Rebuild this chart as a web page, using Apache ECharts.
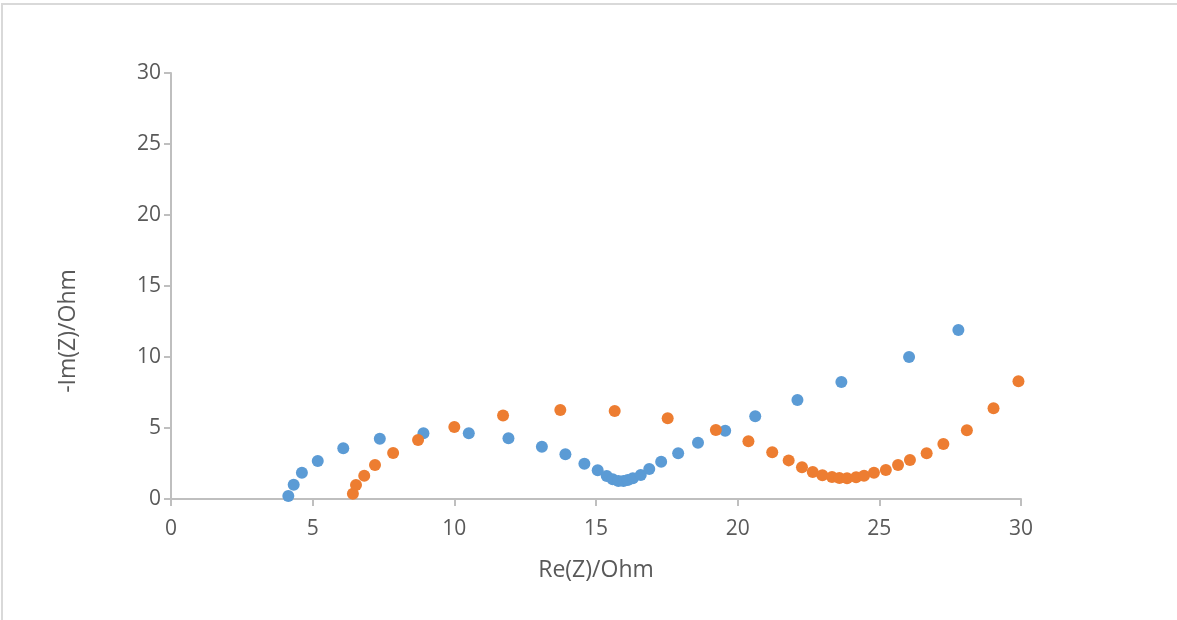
<!DOCTYPE html>
<html>
<head>
<meta charset="utf-8">
<title>Nyquist plot</title>
<script src="https://cdn.jsdelivr.net/npm/echarts@6/dist/echarts.min.js"></script>
<style>
  html, body { margin: 0; padding: 0; background: #fff; }
  #chart { width: 1177px; height: 620px; }
</style>
</head>
<body>
<div id="chart"></div>
<script>
// Impedance spectra: real part (Ohm) and negative imaginary part (Ohm)
const blueRe = [4.14, 4.33, 4.62, 5.18, 6.08, 7.37, 8.91, 10.51, 11.91, 13.09, 13.92, 14.59, 15.06, 15.38, 15.59, 15.79, 15.97, 16.12, 16.30, 16.58, 16.88, 17.30, 17.90, 18.60, 19.56, 20.62, 22.11, 23.66, 26.05, 27.79];
const blueIm = [0.21, 1.01, 1.85, 2.68, 3.57, 4.25, 4.63, 4.63, 4.27, 3.68, 3.15, 2.49, 2.02, 1.62, 1.39, 1.27, 1.27, 1.34, 1.46, 1.69, 2.11, 2.63, 3.22, 3.96, 4.81, 5.82, 6.97, 8.24, 10.0, 11.9];

const orangeRe = [6.42, 6.53, 6.82, 7.20, 7.84, 8.72, 10.0, 11.72, 13.74, 15.66, 17.53, 19.23, 20.38, 21.22, 21.80, 22.27, 22.65, 22.99, 23.33, 23.59, 23.86, 24.18, 24.46, 24.81, 25.23, 25.66, 26.08, 26.67, 27.26, 28.09, 29.03, 29.91];
const orangeIm = [0.37, 0.99, 1.64, 2.39, 3.24, 4.15, 5.07, 5.88, 6.27, 6.20, 5.68, 4.86, 4.06, 3.29, 2.72, 2.23, 1.90, 1.67, 1.55, 1.48, 1.46, 1.53, 1.64, 1.85, 2.04, 2.39, 2.75, 3.22, 3.87, 4.84, 6.39, 8.29];

const xTicks = [0, 5, 10, 15, 20, 25, 30];
const yTicks = [0, 5, 10, 15, 20, 25, 30];

const xTitle = 'Re(Z)/Ohm';
const yTitle = '-Im(Z)/Ohm';

const pairs = (xs, ys) => xs.map((x, i) => [x, ys[i]]);

const textColor = '#595959';
const fontFamily = 'Open Sans';
const tickFont = { color: textColor, fontFamily: fontFamily, fontSize: 21 };
const titleFont = { color: textColor, fontFamily: fontFamily, fontSize: 23 };
const axisGrey = '#BFBFBF';

const chart = echarts.init(document.getElementById('chart'), null, { renderer: 'canvas' });
chart.setOption({
  animation: false,
  backgroundColor: '#ffffff',
  graphic: [
    {
      // chart area frame (its right and bottom edges fall outside the canvas)
      type: 'rect',
      shape: { x: 2, y: 4, width: 1300, height: 800 },
      style: { fill: 'none', stroke: '#D9D9D9', lineWidth: 2 },
      silent: true
    },
    {
      // vertical axis title
      type: 'text',
      x: 68,
      y: 331,
      rotation: Math.PI / 2,
      style: Object.assign({ text: yTitle, align: 'center', verticalAlign: 'middle', fill: textColor,
        font: titleFont.fontSize + 'px "' + fontFamily + '"' }),
      silent: true
    }
  ],
  grid: { left: 171, top: 73, right: 156, bottom: 121, containLabel: false },
  xAxis: {
    type: 'value',
    min: xTicks[0],
    max: xTicks[xTicks.length - 1],
    interval: 5,
    name: xTitle,
    nameLocation: 'middle',
    nameGap: 60,
    nameTextStyle: titleFont,
    axisLine: { show: true, onZero: false, lineStyle: { color: axisGrey, width: 2 } },
    axisTick: { show: true, inside: false, length: 7, lineStyle: { color: axisGrey, width: 2 } },
    axisLabel: Object.assign({ margin: 20 }, tickFont),
    splitLine: { show: false }
  },
  yAxis: {
    type: 'value',
    min: yTicks[0],
    max: yTicks[yTicks.length - 1],
    interval: 5,
    axisLine: { show: true, onZero: false, lineStyle: { color: axisGrey, width: 2 } },
    axisTick: { show: true, inside: false, length: 7, lineStyle: { color: axisGrey, width: 2 } },
    axisLabel: Object.assign({ margin: 10 }, tickFont),
    splitLine: { show: false }
  },
  series: [
    {
      name: 'Blue',
      type: 'scatter',
      symbol: 'circle',
      symbolSize: 12,
      itemStyle: { color: '#5B9BD5', opacity: 1 },
      data: pairs(blueRe, blueIm)
    },
    {
      name: 'Orange',
      type: 'scatter',
      symbol: 'circle',
      symbolSize: 12,
      itemStyle: { color: '#ED7D31', opacity: 1 },
      data: pairs(orangeRe, orangeIm)
    }
  ]
});
</script>
</body>
</html>
